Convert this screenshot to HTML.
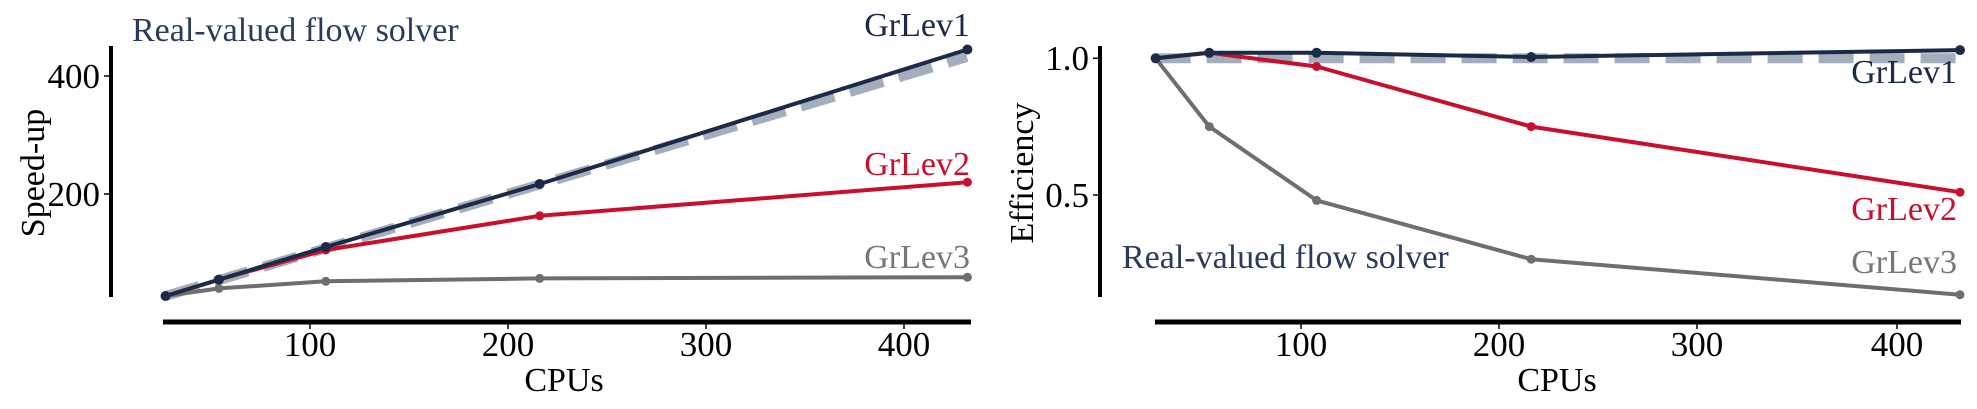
<!DOCTYPE html>
<html><head><meta charset="utf-8"><style>
html,body{margin:0;padding:0;background:#fff;width:1977px;height:409px;overflow:hidden}
text{font-family:"Liberation Serif",serif;font-size:34px}
.t{font-size:35px}
</style></head><body>
<svg width="1977" height="409" xmlns="http://www.w3.org/2000/svg">
<!-- LEFT PANEL -->
<line x1="111" y1="46" x2="111" y2="297" stroke="#000" stroke-width="4"/>
<line x1="163" y1="322" x2="971" y2="322" stroke="#000" stroke-width="5"/>
<g stroke="#000" stroke-width="1.5">
<line x1="104" y1="76" x2="111" y2="76"/><line x1="104" y1="194" x2="111" y2="194"/>
<line x1="310" y1="322" x2="310" y2="329"/><line x1="508" y1="322" x2="508" y2="329"/><line x1="706" y1="322" x2="706" y2="329"/><line x1="904" y1="322" x2="904" y2="329"/>
</g>
<text class="t" x="100" y="88" text-anchor="end">400</text>
<text class="t" x="100" y="206" text-anchor="end">200</text>
<text class="t" x="310" y="356" text-anchor="middle">100</text>
<text class="t" x="508" y="356" text-anchor="middle">200</text>
<text class="t" x="706" y="356" text-anchor="middle">300</text>
<text class="t" x="904" y="356" text-anchor="middle">400</text>
<text x="564" y="391" text-anchor="middle">CPUs</text>
<text transform="translate(44,173) rotate(-90)" text-anchor="middle">Speed-up</text>
<text x="132" y="41" fill="#2a3a5a">Real-valued flow solver</text>
<line x1="165.5" y1="296" x2="967" y2="57" stroke="#9aa5b5" stroke-width="10" stroke-dasharray="35 16" opacity="0.9"/>
<g fill="none" stroke-width="4" stroke-linejoin="round">
<polyline stroke="#6e6e6e" points="165.5,296 218.9,288.4 325.8,281.3 539.7,278.4 967.4,277.2"/>
<polyline stroke="#c8102e" points="165.5,296 218.9,279.6 325.8,250 539.7,215.8 967.4,182.2"/>
<polyline stroke="#1b2a47" points="165.5,296 218.9,279.6 325.8,247 539.7,184 967.4,49.5"/>
</g>
<g fill="#6e6e6e"><circle cx="165.5" cy="296" r="4.5"/><circle cx="218.9" cy="288.4" r="4.5"/><circle cx="325.8" cy="281.3" r="4.5"/><circle cx="539.7" cy="278.4" r="4.5"/><circle cx="967.4" cy="277.2" r="4.5"/></g>
<g fill="#c8102e"><circle cx="325.8" cy="250" r="4.5"/><circle cx="539.7" cy="215.8" r="4.5"/><circle cx="967.4" cy="182.2" r="4.5"/></g>
<g fill="#1b2a47"><circle cx="165.5" cy="296" r="5"/><circle cx="218.9" cy="279.6" r="5"/><circle cx="325.8" cy="247" r="5"/><circle cx="539.7" cy="184" r="5"/><circle cx="967.4" cy="49.5" r="5"/></g>
<text x="970" y="36" text-anchor="end" fill="#1b2a47">GrLev1</text>
<text x="970" y="175" text-anchor="end" fill="#c8102e">GrLev2</text>
<text x="970" y="268" text-anchor="end" fill="#777">GrLev3</text>

<!-- RIGHT PANEL -->
<line x1="1100" y1="46" x2="1100" y2="297" stroke="#000" stroke-width="4"/>
<line x1="1155" y1="322" x2="1961" y2="322" stroke="#000" stroke-width="5"/>
<g stroke="#000" stroke-width="1.5">
<line x1="1093" y1="58.3" x2="1100" y2="58.3"/><line x1="1093" y1="195" x2="1100" y2="195"/>
<line x1="1301" y1="322" x2="1301" y2="329"/><line x1="1499" y1="322" x2="1499" y2="329"/><line x1="1697" y1="322" x2="1697" y2="329"/><line x1="1897" y1="322" x2="1897" y2="329"/>
</g>
<text class="t" x="1089" y="70" text-anchor="end">1.0</text>
<text class="t" x="1089" y="207" text-anchor="end">0.5</text>
<text class="t" x="1301" y="356" text-anchor="middle">100</text>
<text class="t" x="1499" y="356" text-anchor="middle">200</text>
<text class="t" x="1697" y="356" text-anchor="middle">300</text>
<text class="t" x="1897" y="356" text-anchor="middle">400</text>
<text x="1557" y="391" text-anchor="middle">CPUs</text>
<text transform="translate(1033,173) rotate(-90)" text-anchor="middle">Efficiency</text>
<text x="1122" y="268" fill="#2a3a5a">Real-valued flow solver</text>
<line x1="1155.6" y1="58.3" x2="1960" y2="58.3" stroke="#9aa5b5" stroke-width="10" stroke-dasharray="35 16" opacity="0.9"/>
<g fill="none" stroke-width="4" stroke-linejoin="round">
<polyline stroke="#6e6e6e" points="1155.6,58.3 1209.3,126.6 1316.6,200.4 1531.2,259.2 1960,294.7"/>
<polyline stroke="#c8102e" points="1155.6,58.3 1209.3,52.8 1316.6,66.5 1531.2,126.6 1960,192.2"/>
<polyline stroke="#1b2a47" points="1155.6,58.3 1209.3,52.8 1316.6,52.8 1531.2,57 1960,50.1"/>
</g>
<g fill="#6e6e6e"><circle cx="1209.3" cy="126.6" r="4.5"/><circle cx="1316.6" cy="200.4" r="4.5"/><circle cx="1531.2" cy="259.2" r="4.5"/><circle cx="1960" cy="294.7" r="4.5"/></g>
<g fill="#c8102e"><circle cx="1316.6" cy="66.5" r="4.5"/><circle cx="1531.2" cy="126.6" r="4.5"/><circle cx="1960" cy="192.2" r="4.5"/></g>
<g fill="#1b2a47"><circle cx="1155.6" cy="58.3" r="5"/><circle cx="1209.3" cy="52.8" r="5"/><circle cx="1316.6" cy="52.8" r="5"/><circle cx="1531.2" cy="57" r="5"/><circle cx="1960" cy="50.1" r="5"/></g>
<text x="1957" y="83" text-anchor="end" fill="#1b2a47">GrLev1</text>
<text x="1957" y="220" text-anchor="end" fill="#c8102e">GrLev2</text>
<text x="1957" y="273" text-anchor="end" fill="#777">GrLev3</text>
</svg>
</body></html>
